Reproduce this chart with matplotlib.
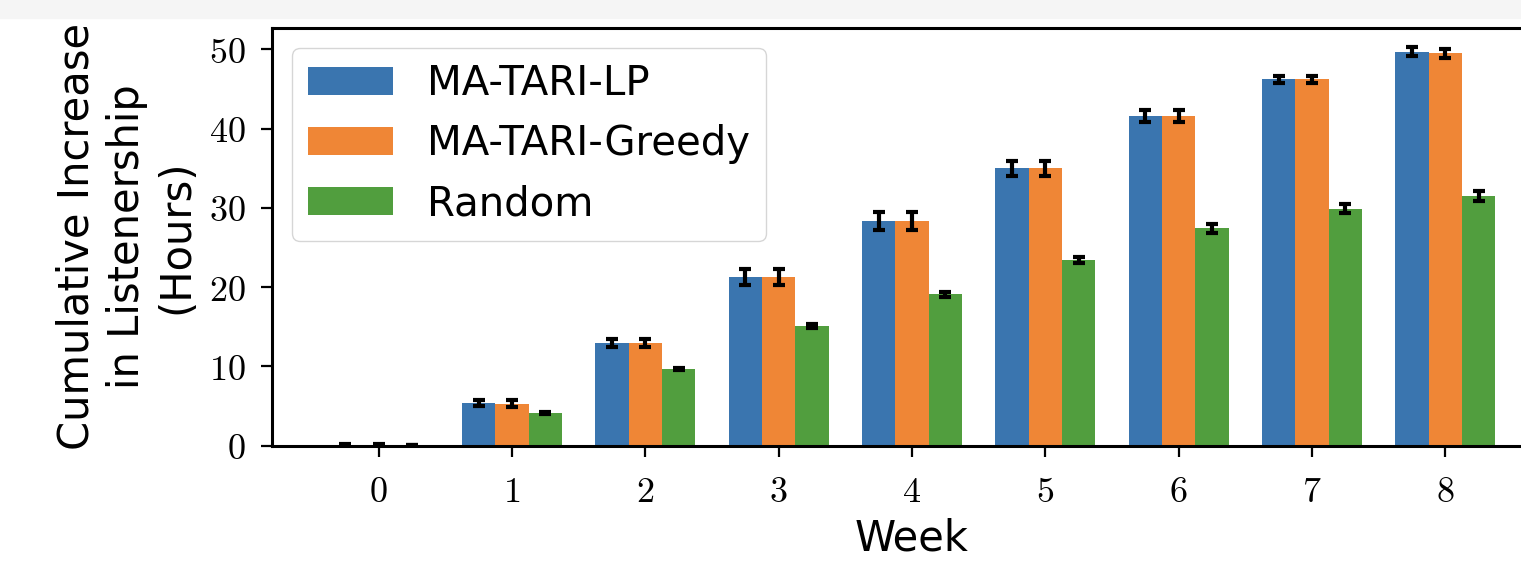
import numpy as np
import matplotlib
matplotlib.use("Agg")
import matplotlib.pyplot as plt
from matplotlib.patches import Rectangle

plt.rcParams["mathtext.fontset"] = "cm"

weeks = [0, 1, 2, 3, 4, 5, 6, 7, 8]
series = ["MA-TARI-LP", "MA-TARI-Greedy", "Random"]
colors = ["#3A75AF", "#EF8636", "#519E3E"]

lp = [0.1, 5.35, 12.9, 21.3, 28.35, 35.0, 41.6, 46.2, 49.7]
greedy = [0.1, 5.3, 12.9, 21.3, 28.35, 35.0, 41.6, 46.2, 49.5]
rand = [0.05, 4.1, 9.7, 15.1, 19.1, 23.4, 27.4, 29.9, 31.5]

lp_err = [0.05, 0.4, 0.5, 1.0, 1.15, 0.95, 0.8, 0.4, 0.55]
greedy_err = [0.05, 0.4, 0.5, 1.0, 1.15, 0.95, 0.8, 0.4, 0.55]
rand_err = [0.02, 0.15, 0.15, 0.3, 0.35, 0.4, 0.55, 0.6, 0.65]

fig = plt.figure(figsize=(15.21, 5.65), dpi=100)
# light strip at top of the screenshot
fig.patches.append(Rectangle((0, 0.968), 1, 0.032, transform=fig.transFigure,
                             color="#f5f5f5", zorder=0))

ax = fig.add_axes([272 / 1521, 0.2112, 1280 / 1521, 0.7393])

width = 0.25
x = np.arange(len(weeks))
for i, (vals, errs) in enumerate([(lp, lp_err), (greedy, greedy_err), (rand, rand_err)]):
    ax.bar(x + (i - 1) * width, vals, width, color=colors[i], label=series[i],
           yerr=errs, capsize=4,
           error_kw=dict(elinewidth=3, capthick=3, ecolor="black"))

ax.set_xlim(-0.8, 8.8)
ax.set_ylim(0, 52.7)
ax.set_xticks(x)
ax.set_xticklabels([f"${w}$" for w in weeks], fontsize=26)
ax.set_yticks([0, 10, 20, 30, 40, 50])
ax.set_yticklabels([f"${v}$" for v in [0, 10, 20, 30, 40, 50]], fontsize=26)
ax.tick_params(width=1.6, length=8)
ax.tick_params(axis="x", pad=13)
ax.tick_params(axis="y", pad=11)
for s in ax.spines.values():
    s.set_linewidth(2.2)

ax.set_xlabel("Week", fontsize=30, labelpad=6)
ax.set_ylabel("Cumulative Increase\nin Listenership\n(Hours)", fontsize=30,
              linespacing=1.25, labelpad=8)

ax.legend(loc="upper left", fontsize=29, handlelength=2.1, handleheight=0.7,
          borderpad=0.4, labelspacing=0.5, handletextpad=0.85)

fig.savefig("out.png", dpi=100)
